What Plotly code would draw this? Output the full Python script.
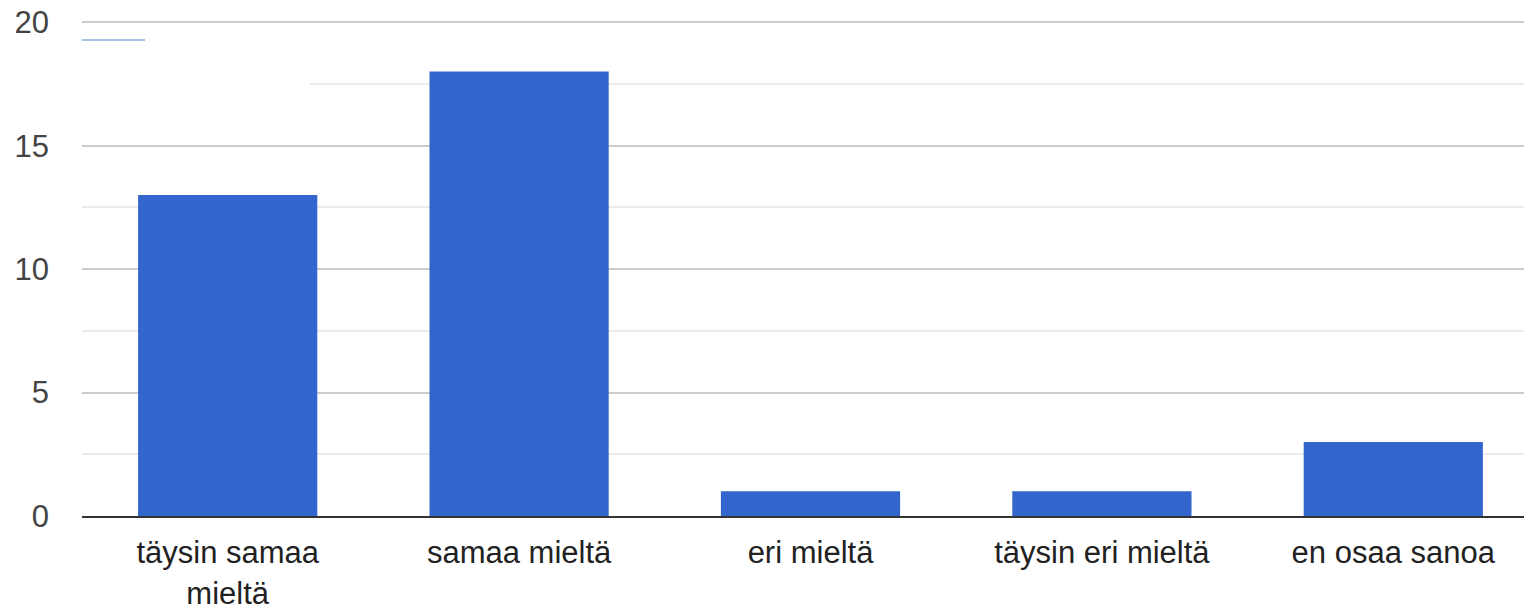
import plotly.graph_objects as go

categories = ["täysin samaa<br>mieltä", "samaa mieltä", "eri mieltä", "täysin eri mieltä", "en osaa sanoa"]
values = [13, 18, 1, 1, 3]
y_ticks = [0, 5, 10, 15, 20]

fig = go.Figure()
fig.add_trace(go.Bar(
    x=list(range(len(categories))),
    y=values,
    marker=dict(color="#3366CC", line=dict(width=0)),
    width=0.615,
    showlegend=False,
))

# page body has an 8px margin; figure is sized to fit the window
W, H = 1524, 604
ML, MR, MT, MB = 74, 0, 13, 96
plot_w = W - ML - MR
plot_h = H - MT - MB
y_top = 20.05

fig.update_layout(
    width=W, height=H,
    margin=dict(l=ML, r=MR, t=MT, b=MB, pad=0),
    paper_bgcolor="white", plot_bgcolor="white",
    font=dict(family="Liberation Sans, Arial, sans-serif", size=31, color="#222222"),
    xaxis=dict(
        tickmode="array",
        tickvals=list(range(len(categories))),
        ticktext=categories,
        range=[-0.5, 4.476],
        showgrid=False, zeroline=False,
        showline=True, linecolor="#333333", linewidth=2,
        ticks="", tickfont=dict(size=31, color="#222222"),
        ticklabelstandoff=8,
        automargin=False,
        fixedrange=True,
    ),
    yaxis=dict(
        range=[0, y_top],
        tickmode="array",
        tickvals=y_ticks,
        ticktext=[str(v) for v in y_ticks],
        showgrid=True, gridcolor="#cccccc", gridwidth=2,
        minor=dict(dtick=2.5, tick0=0, showgrid=True, gridcolor="#ebebeb", gridwidth=2),
        zeroline=False, showline=False,
        ticks="", tickfont=dict(size=31, color="#444444"),
        ticklabelstandoff=32,
        ticklabeloverflow="allow",
        automargin=False,
        fixedrange=True,
    ),
    shapes=[
        dict(type="rect", xref="paper", yref="paper", x0=0, x1=(310 - 82) / plot_w,
             y0=17.0 / y_top, y1=18.2 / y_top, fillcolor="white", line=dict(width=0), layer="above"),
        dict(type="line", xref="paper", yref="paper", x0=0, x1=(145 - 82) / plot_w,
             y0=(516 - 40) / plot_h, y1=(516 - 40) / plot_h, line=dict(color="#8fa8e0", width=1.5)),
    ],
)

fig.write_html("out.html")
